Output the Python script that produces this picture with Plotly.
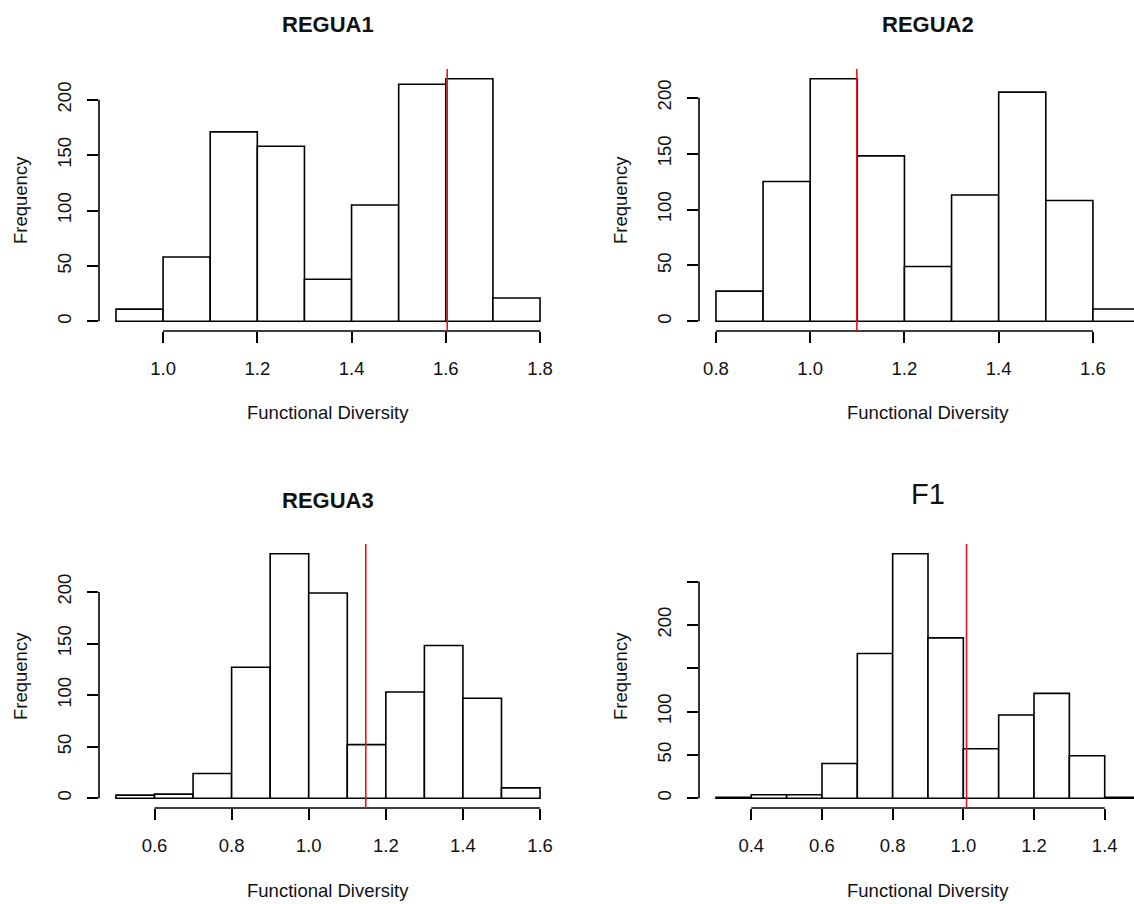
import plotly.graph_objects as go

# ---- data: histogram counts of null-model functional diversity, bin width 0.1 ----
bin_width = 0.1

regua1_start = 0.9
regua1_counts = [11, 58, 171, 158, 38, 105, 214, 219, 21]
regua1_obs = 1.603
regua1_xticks = [1.0, 1.2, 1.4, 1.6, 1.8]

regua2_start = 0.8
regua2_counts = [27, 125, 217, 148, 49, 113, 205, 108, 11]
regua2_obs = 1.099
regua2_xticks = [0.8, 1.0, 1.2, 1.4, 1.6]

regua3_start = 0.5
regua3_counts = [3, 4, 24, 127, 237, 199, 52, 103, 148, 97, 10]
regua3_obs = 1.148
regua3_xticks = [0.6, 0.8, 1.0, 1.2, 1.4, 1.6]

f1_start = 0.3
f1_counts = [1, 4, 4, 40, 167, 282, 185, 57, 96, 121, 49, 1]
f1_obs = 1.009
f1_xticks = [0.4, 0.6, 0.8, 1.0, 1.2, 1.4]

yticks_std = [0, 50, 100, 150, 200]
ylabels_std = ["0", "50", "100", "150", "200"]
yticks_f1 = [0, 50, 100, 150, 200, 250]
ylabels_f1 = ["0", "50", "100", "", "200", ""]

titles = ["REGUA1", "REGUA2", "REGUA3", "F1"]
title_bold = [True, True, True, False]
xlab = "Functional Diversity"
ylab = "Frequency"

# ---- page geometry (pixels) ----
W, H = 1134, 904
cols = [(99, 557), (699, 1157)]      # plot-region left/right per column
rows = [(69, 331), (544, 808)]       # plot-region top/bottom per row

FONT = "Liberation Sans, Arial, sans-serif"
TXT = "#111111"


def px(x):
    return x / W


def py(y):
    return 1 - y / H


panels = [
    (regua1_start, regua1_counts, regua1_obs, regua1_xticks, yticks_std, ylabels_std, 0, 0),
    (regua2_start, regua2_counts, regua2_obs, regua2_xticks, yticks_std, ylabels_std, 0, 1),
    (regua3_start, regua3_counts, regua3_obs, regua3_xticks, yticks_std, ylabels_std, 1, 0),
    (f1_start, f1_counts, f1_obs, f1_xticks, yticks_f1, ylabels_f1, 1, 1),
]

fig = go.Figure()
shapes = []
annotations = []
layout_axes = {}

for i, (start, counts, obs, xt, yt, yl, r, c) in enumerate(panels, start=1):
    n = len(counts)
    lo = start
    hi = start + n * bin_width
    span = hi - lo
    xr = [lo - 0.04 * span, hi + 0.04 * span]
    ymax = max(counts)
    yr = [-0.04 * ymax, 1.04 * ymax]

    x0p, x1p = cols[c]
    y0p, y1p = rows[r]
    # clip region at the page edge while keeping the same scale
    if x1p > W:
        frac = (W - x0p) / (x1p - x0p)
        xr = [xr[0], xr[0] + frac * (xr[1] - xr[0])]
        x1p = W

    centers = [lo + (k + 0.5) * bin_width for k in range(n)]
    xa = "x" if i == 1 else f"x{i}"
    ya = "y" if i == 1 else f"y{i}"

    fig.add_trace(go.Bar(
        x=centers, y=counts, width=bin_width,
        marker=dict(color="white", line=dict(color="black", width=1.6)),
        xaxis=xa, yaxis=ya, showlegend=False, hoverinfo="skip",
    ))

    xkey = "xaxis" if i == 1 else f"xaxis{i}"
    ykey = "yaxis" if i == 1 else f"yaxis{i}"
    layout_axes[xkey] = dict(
        domain=[px(x0p), px(x1p)], range=xr, anchor=ya,
        showgrid=False, zeroline=False, showline=False,
        ticks="outside", ticklen=11, tickwidth=1.5, tickcolor="black",
        tickvals=xt, ticktext=[f"{v:.1f}" for v in xt],
        tickfont=dict(family=FONT, size=18.5, color=TXT),
        ticklabelstandoff=10, fixedrange=True,
    )
    layout_axes[ykey] = dict(
        domain=[py(y1p), py(y0p)], range=yr, anchor=xa,
        showgrid=False, zeroline=False, showline=False,
        ticks="outside", ticklen=11, tickwidth=1.5, tickcolor="black",
        tickvals=yt, ticktext=yl, tickangle=-90,
        tickfont=dict(family=FONT, size=18.5, color=TXT),
        ticklabelstandoff=9, fixedrange=True,
    )

    # axis lines spanning first to last tick
    shapes.append(dict(type="line", xref=xa, yref=f"{ya} domain",
                       x0=xt[0], x1=xt[-1], y0=0, y1=0,
                       line=dict(color="black", width=1.6)))
    shapes.append(dict(type="line", xref=f"{xa} domain", yref=ya,
                       x0=0, x1=0, y0=yt[0], y1=yt[-1],
                       line=dict(color="black", width=1.6)))
    # observed value
    shapes.append(dict(type="line", xref=xa, yref=f"{ya} domain",
                       x0=obs, x1=obs, y0=0, y1=1,
                       line=dict(color="#e8141a", width=1.6)))

    cx = (cols[c][0] + cols[c][1]) / 2
    cy = (rows[r][0] + rows[r][1]) / 2
    # panel title
    if title_bold[i - 1]:
        ttext, tsize, ty = f"<b>{titles[i - 1]}</b>", 22, rows[r][0] - 44
    else:
        ttext, tsize, ty = titles[i - 1], 29, rows[r][0] - 50
    annotations.append(dict(text=ttext, x=px(cx), y=py(ty), xref="paper", yref="paper",
                            showarrow=False, xanchor="center", yanchor="middle",
                            font=dict(family=FONT, size=tsize, color=TXT)))
    # axis titles
    annotations.append(dict(text=xlab, x=px(cx), y=py(rows[r][1] + 82), xref="paper", yref="paper",
                            showarrow=False, xanchor="center", yanchor="middle",
                            font=dict(family=FONT, size=18.5, color=TXT)))
    annotations.append(dict(text=ylab, x=px(cols[c][0] - 79), y=py(cy), xref="paper", yref="paper",
                            showarrow=False, xanchor="center", yanchor="middle", textangle=-90,
                            font=dict(family=FONT, size=18.5, color=TXT)))

fig.update_layout(
    width=W, height=H, autosize=False,
    margin=dict(l=0, r=0, t=0, b=0),
    paper_bgcolor="white", plot_bgcolor="white",
    shapes=shapes, annotations=annotations,
    barmode="overlay",
    **layout_axes,
)

fig.write_html("out.html", config={"displayModeBar": False})
